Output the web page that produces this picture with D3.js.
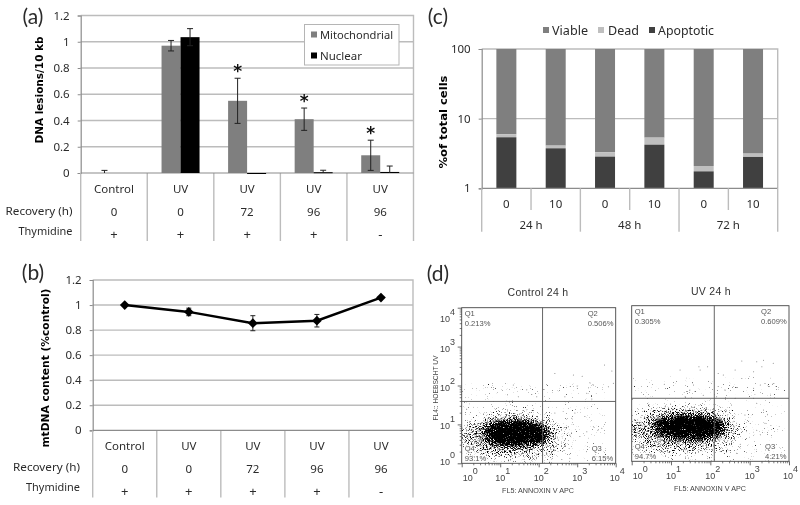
<!DOCTYPE html>
<html><head><meta charset="utf-8">
<script src="https://cdn.jsdelivr.net/npm/d3@7"></script>
<style>
html,body{margin:0;padding:0;background:#fff}
svg{display:block;filter:blur(.3px)}
text{font-family:"Noto Sans",sans-serif;fill:#2b2b2b}
</style></head><body>
<svg id="c" width="800" height="505" viewBox="0 0 800 505"></svg>
<script>
// ---------- data ----------
const treatments=["Control","UV","UV","UV","UV"];
const recoveryHours=["0","0","72","96","96"];
const thymidine=["+","+","+","+","-"];
const lesionTicks=[0,.2,.4,.6,.8,1,1.2];
const mitoValues=[0,.97,.55,.41,.135];
const mitoErrors=[.02,.04,.172,.085,.115];
const nuclearValues=[0,1.035,-.005,.006,.008];
const nuclearErrors=[0,.065,0,.015,.045];
const significant=[false,false,true,true,true];
const mtdnaValues=[1,.945,.855,.875,1.06];
const mtdnaErrors=[0,.03,.06,.05,0];
const doseLabels=["0","10","0","10","0","10"];
const timeLabels=["24 h","48 h","72 h"];
const apoptotic=[5.4,3.75,2.85,4.23,1.75,2.82];
const deadTop=[5.96,4.1,3.29,5.34,2.09,3.15];
const viableTop=[100,100,100,100,100,100];
const logTicks=[1,10,100];
// flow cytometry: sparse events, in decades [log10 x, log10 y]
const controlEvents=[[1.34,2.01],[1.19,1.76],[1.69,1.89],[1.47,1.71],[1.82,1.77],[1.95,1.71],[2.42,2.31],[2.9,2.27],[3.13,2.24],[3.33,2.07],[3.42,2.01],[3.71,2.53],[3.9,2.37],[3.94,2.06],[3,1.99],[2.54,1.87],[3.25,1.8],[3.38,1.65],[3.81,1.97],[2.68,1.71],[2.94,1.29],[3.2,1.2],[3.42,.94],[3.64,.9],[3.55,.86],[2.77,.94],[2.86,1.16],[2.6,.1],[2.81,.13],[3.51,.17],[3.25,.81],[3.07,.69],[2.42,1.29],[2.51,.6],[2.68,.47],[2.34,.26],[2.42,.34],[2.81,.73]];
const uvEvents=[[1.23,2.35],[1.74,2.35],[1.71,2.43],[1.93,2.43],[1.57,1.96],[1.48,1.83],[1.14,2.05],[.83,1.98],[2.2,2.26],[2.33,2.22],[2.63,2.35],[2.8,2.58],[3.1,2.3],[3.18,2.56],[3.31,2.43],[3.35,2.6],[3.6,2.52],[2.97,2.13],[3.1,1.88],[3.27,1.96],[3.48,1.92],[3.6,2],[3.39,2],[2.8,2.13],[2.37,1.83],[2.2,1.92],[2.16,1.66],[2.63,1.62],[3.1,1.62],[1.82,1.7],[1.36,1.66],[.44,1.46],[.85,1.4],[2.54,1.45],[3.18,1.49],[3.35,1.32],[2.97,1.02],[3.39,.98],[3.18,.8],[3.27,.68],[2.76,.44],[2.67,.21],[2.25,.25],[2.37,.76],[2.88,1.19]];
// dense event clouds, as read outlines in decades [cx, cy, rx, ry, density]
const controlClouds=[[1.4,.66,1.45,.7,.24],[1.15,.72,1.25,.45,.2],[1.42,.78,.85,.3,1]];
const uvClouds=[[1.4,.78,1.55,.7,.24],[1.15,.82,1.3,.45,.2],[1.48,.88,.9,.29,1]];
const controlGate=[2.1,1.59];
const uvGate=[2.1,1.62];
const controlQuadrants=[["Q1","0.213%"],["Q2","0.506%"],["Q3","6.15%"],["Q4","93.1%"]];
const uvQuadrants=[["Q1","0.305%"],["Q2","0.609%"],["Q3","4.21%"],["Q4","94.7%"]];
const decades=[0,1,2,3,4];

// ---------- shared ----------
const svg=d3.select("#c");
const GRID="#bcbcbc",AXIS="#8c8c8c",GREY="#7f7f7f",BLACK="#000";
const FONT=11.5;
const defs=svg.append("defs");
const f=defs.append("filter").attr("id","stipple").attr("x","-30%").attr("y","-50%").attr("width","160%").attr("height","200%")
  .attr("color-interpolation-filters","sRGB");
f.append("feGaussianBlur").attr("in","SourceAlpha").attr("stdDeviation",5).attr("result","b");
f.append("feTurbulence").attr("type","fractalNoise").attr("baseFrequency",.95).attr("numOctaves",2).attr("seed",4).attr("result","n");
f.append("feColorMatrix").attr("in","n").attr("type","matrix").attr("values","0 0 0 0 0 0 0 0 0 0 0 0 0 0 0 1 0 0 0 0").attr("result","na");
f.append("feComposite").attr("in","b").attr("in2","na").attr("operator","arithmetic")
  .attr("k1",0).attr("k2",.6).attr("k3",1).attr("k4",-.7).attr("result","c");
const ct=f.append("feComponentTransfer").attr("in","c");
ct.append("feFuncA").attr("type","linear").attr("slope",5).attr("intercept",0);

function txt(g,x,y,s,o={}){
  const t=g.append("text").attr("x",x).attr("y",y).attr("text-anchor",o.anchor||"middle")
    .attr("dominant-baseline","central").attr("font-size",o.size||FONT)
    .attr("font-weight",o.weight||null).style("font-family",o.family||null)
    .style("fill",o.fill||null).style("letter-spacing",o.ls||null)
    .attr("transform",o.rot?`rotate(${o.rot} ${x} ${y})`:null).text(s);
  if(o.len) t.attr("textLength",o.len).attr("lengthAdjust","spacingAndGlyphs");
  if(o.halo) t.style("paint-order","stroke").style("stroke","#fff").style("stroke-width","2px");
  return t;
}
function yAxis(g,scale,ticks,left,fmt){
  const ax=d3.axisLeft(scale).tickValues(ticks).tickSize(3).tickPadding(8).tickFormat(fmt);
  const a=g.append("g").attr("transform",`translate(${left},0)`).call(ax);
  a.select(".domain").attr("stroke",AXIS).attr("stroke-width",1.2);
  a.selectAll(".tick line").attr("stroke",AXIS);
  a.selectAll("text").attr("font-size",FONT).style("font-family",'"Noto Sans",sans-serif');
}
function frame(g,x0,x1,y0,y1,ticks,y){
  g.selectAll(".grid").data(ticks.filter(t=>y(t)>y0+.5&&y(t)<y1-.5)).join("line")
    .attr("x1",x0).attr("x2",x1).attr("y1",d=>y(d)).attr("y2",d=>y(d)).attr("stroke",GRID).attr("stroke-width",1.4);
  g.append("path").attr("d",`M${x0},${y0}H${x1}V${y1}`).attr("fill","none").attr("stroke",GRID).attr("stroke-width",1.4);
}
function table(g,x,base,bottom,r,rowLabelX){
  x.domain().concat(["end"]).forEach((d,i)=>{
    const px=x.range()[0]+i*x.step();
    g.append("line").attr("x1",px).attr("x2",px).attr("y1",base).attr("y2",bottom).attr("stroke",GRID).attr("stroke-width",1.4);
  });
  g.append("line").attr("x1",x.range()[0]).attr("x2",x.range()[1]).attr("y1",base).attr("y2",base).attr("stroke",AXIS).attr("stroke-width",1.2);
  x.domain().forEach((d,i)=>{
    const c=x(d)+x.bandwidth()/2;
    txt(g,c,r[0],treatments[i]);
    txt(g,c,r[1],recoveryHours[i]);
    txt(g,c,r[2],thymidine[i],{size:13});
  });
  txt(g,rowLabelX,r[3],"Recovery (h)",{anchor:"end",len:67});
  txt(g,rowLabelX,r[4],"Thymidine",{anchor:"end",len:54});
}
const idx=d3.range(5);
const fmt=d=>String(d);

// ---------- (a) ----------
{
  const g=svg.append("g");
  const x=d3.scaleBand().domain(idx).range([80.7,413.5]);
  const y=d3.scaleLinear().domain([0,1.2]).range([173,15.5]);
  const barW=19;
  frame(g,80.7,413.5,15.5,173,lesionTicks,y);
  yAxis(g,y,lesionTicks,80.7,fmt);
  table(g,x,173,241,[188.5,211,233.5,210,230.5],72.5);
  const mx=i=>x(i)+x.bandwidth()/2-barW/2, nx=i=>x(i)+x.bandwidth()/2+barW/2;
  const bars=(vals,cx,fill)=>g.selectAll(null).data(vals).join("rect")
    .attr("x",(d,i)=>cx(i)-barW/2).attr("width",barW)
    .attr("y",d=>y(Math.max(d,0))).attr("height",d=>Math.max(Math.abs(y(d)-y(0)),d===0?0:1)).attr("fill",fill);
  bars(mitoValues,mx,GREY); bars(nuclearValues,nx,BLACK);
  const err=(vals,errs,cx)=>vals.forEach((v,i)=>{
    if(!errs[i])return;
    const c=cx(i),t=y(v+errs[i]),b=y(Math.max(v-errs[i],0));
    g.append("path").attr("d",`M${c},${t}V${b}M${c-3},${t}H${c+3}`+(v-errs[i]>0?`M${c-3},${b}H${c+3}`:""))
      .attr("stroke","#222").attr("fill","none").attr("stroke-width",1);
  });
  err(mitoValues,mitoErrors,mx); err(nuclearValues,nuclearErrors,nx);
  significant.forEach((s,i)=>{ if(s) txt(g,mx(i),y(mitoValues[i]+mitoErrors[i])-7,"*",{size:17,weight:"bold",fill:"#111",family:"DejaVu Sans"}); });
  txt(g,39,90,"DNA lesions/10 kb",{rot:-90,weight:"bold",size:11,fill:"#000",len:107,family:"DejaVu Sans"});
  txt(g,33,15,"(a)",{size:21,family:"Lato"});
  g.append("rect").attr("x",304.5).attr("y",24.5).attr("width",94.5).attr("height",40.5).attr("fill","#fff").attr("stroke","#b5b5b5");
  [["Mitochondrial",GREY,34.5,73],["Nuclear",BLACK,55.5,42]].forEach(([s,c,yy,len])=>{
    g.append("rect").attr("x",311).attr("y",yy-3).attr("width",6).attr("height",6).attr("fill",c);
    txt(g,320,yy,s,{anchor:"start",len});
  });
}

// ---------- (b) ----------
{
  const g=svg.append("g");
  const x=d3.scaleBand().domain(idx).range([92.7,413]);
  const y=d3.scaleLinear().domain([0,1.2]).range([430.3,280]);
  frame(g,92.7,413,280,430.3,lesionTicks,y);
  yAxis(g,y,lesionTicks,92.7,fmt);
  table(g,x,430.3,497.5,[445,468,491,466,486],80);
  const cx=i=>x(i)+x.bandwidth()/2;
  mtdnaValues.forEach((v,i)=>{
    if(!mtdnaErrors[i])return;
    const c=cx(i),t=y(v+mtdnaErrors[i]),b=y(v-mtdnaErrors[i]);
    g.append("path").attr("d",`M${c},${t}V${b}M${c-2.5},${t}H${c+2.5}M${c-2.5},${b}H${c+2.5}`).attr("stroke","#222").attr("fill","none");
  });
  g.append("path").datum(mtdnaValues).attr("fill","none").attr("stroke",BLACK).attr("stroke-width",2.4)
    .attr("d",d3.line().x((d,i)=>cx(i)).y(d=>y(d)));
  g.selectAll(null).data(mtdnaValues).join("path").attr("d",d3.symbol(d3.symbolDiamond2||d3.symbolDiamond,60))
    .attr("transform",(d,i)=>`translate(${cx(i)},${y(d)})`).attr("fill",BLACK);
  txt(g,45,368,"mtDNA content (%control)",{rot:-90,weight:"bold",size:11,fill:"#000",len:159,family:"DejaVu Sans"});
  txt(g,33,271,"(b)",{size:21,family:"Lato"});
}

// ---------- (c) ----------
{
  const g=svg.append("g");
  const bars=d3.range(6);
  const x=d3.scaleBand().domain(bars).range([481.7,777.7]);
  const y=d3.scaleLog().domain([1,100]).range([188.3,49]);
  const w=20;
  frame(g,481.7,777.7,49,188.3,logTicks,y);
  yAxis(g,y,logTicks,481.7,d3.format("d"));
  const cx=i=>x(i)+x.bandwidth()/2;
  const stack=(hi,lo,fill)=>g.selectAll(null).data(bars).join("rect")
    .attr("x",i=>cx(i)-w/2).attr("width",w).attr("y",i=>y(hi[i]))
    .attr("height",i=>y(lo?lo[i]:1)-y(hi[i])).attr("fill",fill);
  stack(viableTop,deadTop,GREY);
  stack(deadTop,apoptotic,"#bfbfbf");
  stack(apoptotic,null,"#404040");
  g.append("line").attr("x1",481.7).attr("x2",777.7).attr("y1",188.3).attr("y2",188.3).attr("stroke",AXIS).attr("stroke-width",1.2);
  bars.forEach(i=>{
    const px=481.7+i*x.step();
    g.append("line").attr("x1",px).attr("x2",px).attr("y1",188.3).attr("y2",i%2?210:231.7).attr("stroke",GRID).attr("stroke-width",1.4);
    txt(g,cx(i),203,doseLabels[i]);
  });
  g.append("line").attr("x1",777.7).attr("x2",777.7).attr("y1",188.3).attr("y2",231.7).attr("stroke",GRID).attr("stroke-width",1.4);
  timeLabels.forEach((t,i)=>txt(g,481.7+(2*i+1)*x.step(),224,t));
  txt(g,443,122,"%of total cells",{rot:-90,weight:"bold",size:11,fill:"#000",len:93,family:"DejaVu Sans"});
  txt(g,438,15,"(c)",{size:21,family:"Lato"});
  [["Viable",GREY,543,552,36],["Dead","#bfbfbf",598,608,31],["Apoptotic","#404040",649,658,56]].forEach(([s,c,sx,tx,len])=>{
    g.append("rect").attr("x",sx).attr("y",27).attr("width",6).attr("height",6).attr("fill",c);
    txt(g,tx,30,s,{anchor:"start",size:12.5,len});
  });
}

// ---------- (d) ----------
let clipId=0;
function flow(o){
  const g=svg.append("g");
  const x=d3.scaleLog().domain([1,1e4]).range([o.x0,o.x1]);
  const y=d3.scaleLog().domain([1,1e4]).range([o.y1,o.y0]);
  const X=d=>x(Math.pow(10,d)),Y=d=>y(Math.pow(10,d));
  const id="clip"+(clipId++);
  defs.append("clipPath").attr("id",id).append("rect").attr("x",o.x0).attr("y",o.y0).attr("width",o.x1-o.x0).attr("height",o.y1-o.y0);
  const clip=g.append("g").attr("clip-path",`url(#${id})`);
  clip.append("g").attr("filter","url(#stipple)").selectAll("ellipse").data(o.clouds).join("ellipse")
    .attr("cx",d=>X(d[0])).attr("cy",d=>Y(d[1])).attr("rx",d=>X(d[2])-X(0)).attr("ry",d=>Y(0)-Y(d[3]))
    .attr("fill","#000").attr("fill-opacity",d=>d[4]);
  clip.selectAll("circle").data(o.events).join("circle")
    .attr("cx",d=>X(d[0])).attr("cy",d=>Y(d[1])).attr("r",.5).attr("fill","#777");
  g.append("rect").attr("x",o.x0).attr("y",o.y0).attr("width",o.x1-o.x0).attr("height",o.y1-o.y0)
    .attr("fill","none").attr("stroke","#444").attr("stroke-width",.9);
  g.append("path").attr("d",`M${X(o.gate[0])},${o.y0}V${o.y1}M${o.x0},${Y(o.gate[1])}H${o.x1}`)
    .attr("stroke","#555").attr("stroke-width",.9).attr("fill","none");
  // log axes
  const minor=[];decades.slice(0,4).forEach(k=>d3.range(2,10).forEach(m=>minor.push(m*Math.pow(10,k))));
  const xAx=g.append("g").attr("transform",`translate(0,${o.y1})`)
    .call(d3.axisBottom(x).tickValues(minor).tickSize(2).tickFormat(""));
  xAx.select(".domain").remove();xAx.selectAll("line").attr("stroke","#444").attr("stroke-width",.7);
  const xMaj=g.append("g").attr("transform",`translate(0,${o.y1})`)
    .call(d3.axisBottom(x).tickValues(decades.map(k=>Math.pow(10,k))).tickSize(4).tickFormat(""));
  xMaj.select(".domain").remove();xMaj.selectAll("line").attr("stroke","#444").attr("stroke-width",.8);
  const lab=(px,py,k)=>{
    txt(g,px,py,"10",{size:9,fill:"#444",family:"Liberation Sans"});
    txt(g,px+7.5,py-7,String(k),{size:9,fill:"#444",family:"Liberation Sans"});
  };
  decades.forEach(k=>lab(X(k)+(k===0?6:(k===4?-1:0)),o.y1+14.5,k));
  if(o.yAxis){
    const yAx=g.append("g").attr("transform",`translate(${o.x0},0)`)
      .call(d3.axisLeft(y).tickValues(minor).tickSize(2).tickFormat(""));
    yAx.select(".domain").remove();yAx.selectAll("line").attr("stroke","#444").attr("stroke-width",.7);
    const yMaj=g.append("g").attr("transform",`translate(${o.x0},0)`)
      .call(d3.axisLeft(y).tickValues(decades.map(k=>Math.pow(10,k))).tickSize(4).tickFormat(""));
    yMaj.select(".domain").remove();yMaj.selectAll("line").attr("stroke","#444").attr("stroke-width",.8);
    decades.forEach(k=>lab(445,Y(k)+(k===0?-1:(k===4?11:2)),k));
    txt(g,435,388,"FL4:: HOEBSCHT UV",{rot:-90,size:7,fill:"#444",family:"Liberation Sans",len:65});
  }
  txt(g,o.titleX,o.titleY,o.title,{size:10.5,family:"Liberation Sans",fill:"#333",ls:".3px"});
  txt(g,o.labelX,o.labelY,"FL5: ANNOXIN V APC",{size:7.5,family:"Liberation Sans",fill:"#444",len:72});
  const q=o.quadrants,S={size:7.6,family:"Liberation Sans",fill:"#555",anchor:"start",halo:true};
  const yT=o.y0+5.5,yT2=o.y0+15.5,yB=o.y1-14.5,yB2=o.y1-5;
  txt(g,o.x0+3,yT,q[0][0],S);txt(g,o.x0+3,yT2,q[0][1],S);
  txt(g,o.x1-28,yT,q[1][0],S);txt(g,o.x1-28,yT2,q[1][1],S);
  txt(g,o.x1-24,yB,q[2][0],S);txt(g,o.x1-24,yB2,q[2][1],S);
  txt(g,o.x0+3,yB,q[3][0],S);txt(g,o.x0+3,yB2,q[3][1],S);
}
flow({x0:461.7,x1:615.7,y0:307.7,y1:463.3,gate:controlGate,events:controlEvents,clouds:controlClouds,quadrants:controlQuadrants,
  title:"Control 24 h",titleX:538,titleY:292,labelX:538,labelY:490,yAxis:true});
flow({x0:631.7,x1:789,y0:305.7,y1:461.3,gate:uvGate,events:uvEvents,clouds:uvClouds,quadrants:uvQuadrants,
  title:"UV 24 h",titleX:711,titleY:291,labelX:710,labelY:488,yAxis:false});
txt(svg,438,272,"(d)",{size:21,family:"Lato"});
</script>
</body></html>
